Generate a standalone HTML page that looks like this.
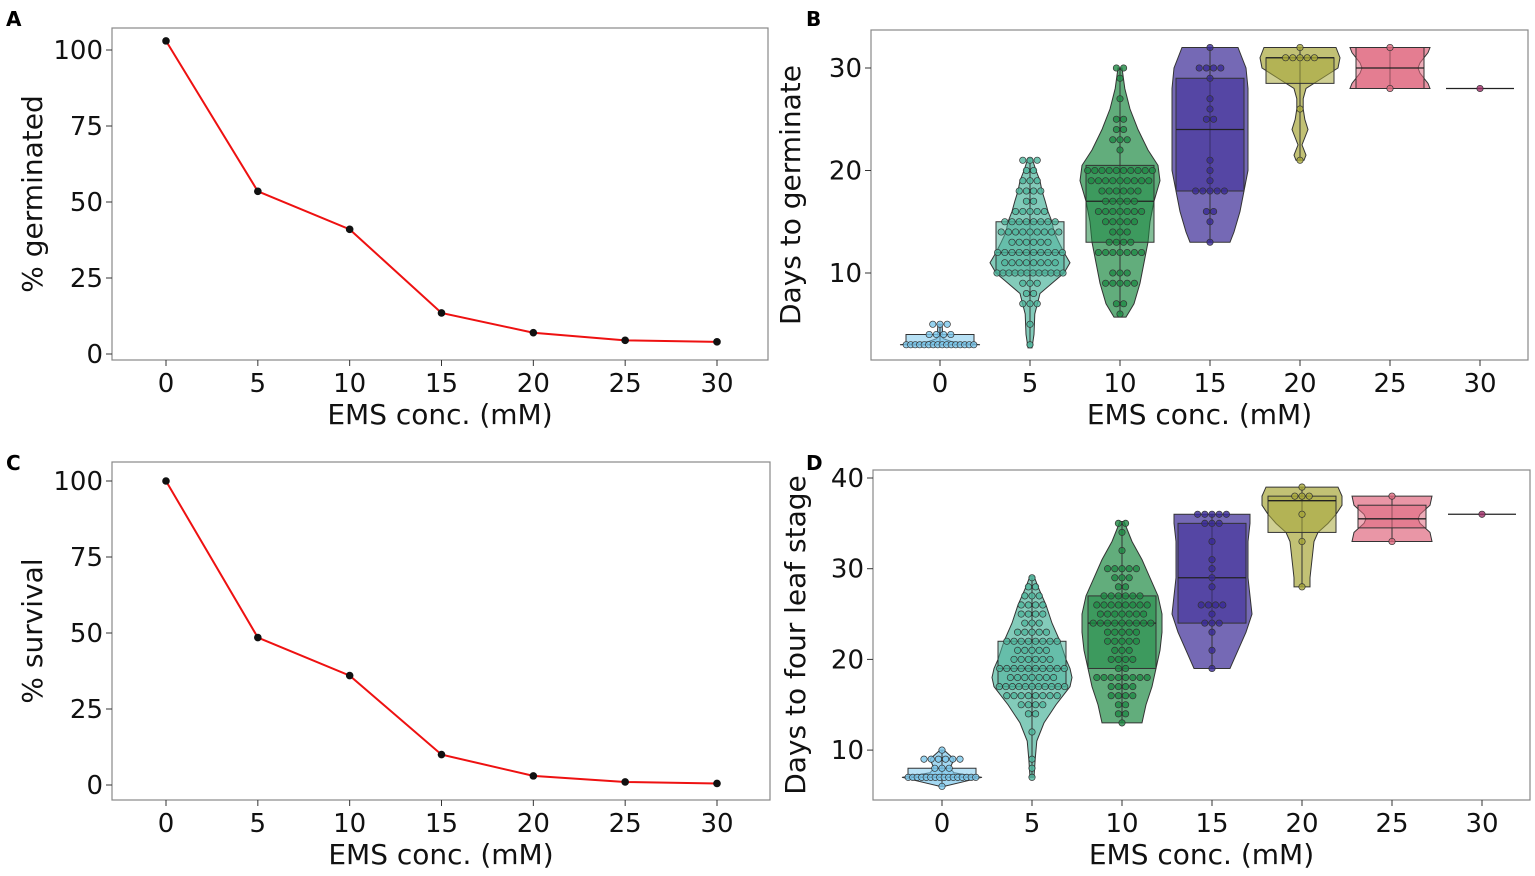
<!DOCTYPE html>
<html><head><meta charset="utf-8"><style>
body{margin:0;background:#fff;}
svg{display:block;font-family:"DejaVu Sans","Liberation Sans",sans-serif;}
</style></head><body>
<svg id="fig" width="1535" height="876" viewBox="0 0 1535 876" xmlns="http://www.w3.org/2000/svg"></svg>
<script>
const NS='http://www.w3.org/2000/svg';
const svg=document.getElementById('fig');
function el(tag,attrs,parent,text){const e=document.createElementNS(NS,tag);for(const k in attrs)e.setAttribute(k,attrs[k]);if(text!==undefined)e.textContent=text;(parent||svg).appendChild(e);return e;}

const concs=[0,5,10,15,20,25,30];
const germPct=[103,53.5,41,13.5,7,4.5,4];
const survPct=[100,48.5,36,10,3,1,0.5];
const pctTicks=[0,25,50,75,100];

const colors=['#7cc8ec','#4fb59c','#1f8a45','#3a2a96','#a8a73a','#e06a80','#a0306a'];
const bProfV=[[3,3.3,3.6,4,4.5,5],[2.7,4,6,8,9,10,11,12,13,14,15,16,17,18,19,20,21.2],[5.7,7,9,11,13,15,17,19,20.5,22,24,26,28,30],[13,14,16,18,20,22,24,26,28,30,31,32],[21,21.5,22.5,24,25,26,27,28,29,30,31,32],[28,28.5,29.5,30,30.5,31.5,32],[28]];
const bProfW=[[1,0.3,0.08,0.06,0.06,0.05],[0.05,0.1,0.12,0.25,0.55,0.85,1,0.85,0.72,0.6,0.55,0.45,0.38,0.3,0.25,0.15,0.05],[0.15,0.35,0.5,0.6,0.7,0.75,0.85,1,0.95,0.7,0.45,0.25,0.12,0.05],[0.5,0.6,0.75,0.85,0.95,0.95,0.95,0.95,0.95,0.9,0.8,0.7],[0.1,0.15,0.05,0.2,0.12,0.08,0.08,0.15,0.55,0.95,1,0.9],[1,0.95,0.75,0.7,0.75,0.95,1],[0.85]];
const bStats=[[3,3,3,4,5],[3,10,12,15,21],[6,13,17,20.5,30],[13,18,24,29,32],[21,28.5,31,31,32],[28,28,30,32,32],[28,28,28,28,28]];
const bDots=[[[3,16],[4,4],[5,3]],[[21,3],[20,2],[19,3],[18,4],[17,2],[16,5],[15,8],[14,9],[13,6],[12,10],[11,8],[10,12],[9,3],[8,2],[7,3],[5,1],[3,1]],[[30,2],[29,1],[27,1],[25,2],[24,2],[23,3],[22,1],[20,10],[19,9],[18,6],[17,5],[16,7],[15,5],[14,3],[13,4],[12,7],[10,3],[9,5],[7,2],[6,1]],[[32,1],[30,4],[29,1],[27,1],[26,1],[25,2],[21,1],[20,1],[19,1],[18,5],[16,2],[15,1],[13,1]],[[32,1],[31,5],[26,1],[21,1]],[[32,1],[28,1]],[[28,1]]];
const bTicks=[10,20,30];

const dProfV=[[6,7,7.5,8,9,10],[7,9,11,13,15,17,18,19,20,22,24,26,28,29.2],[13,15,17,19,21,23,25,27,29,31,33,35.2],[19,21,23,25,27,29,31,33,35,36],[28,29,31,33,34,35,36,37,38,39],[33,34,35,35.5,36,37,38],[36]];
const dProfW=[[0.05,1,0.3,0.2,0.3,0.05],[0.05,0.08,0.12,0.3,0.6,0.95,1,0.95,0.85,0.7,0.5,0.35,0.15,0.05],[0.5,0.6,0.75,0.85,0.95,1,1,0.9,0.7,0.5,0.25,0.05],[0.45,0.65,0.85,1,0.95,0.9,0.9,0.9,0.95,0.95],[0.2,0.2,0.25,0.3,0.4,0.65,0.85,1,1,0.9],[1,0.95,0.7,0.65,0.7,0.95,1],[0.85]];
const dStats=[[6,7,7,8,10],[7,17,19,22,29],[13,19,24,27,35],[19,24,29,35,36],[28,34,37.5,38,39],[33,34.5,35.5,37,38],[36,36,36,36,36]];
const dDots=[[[10,1],[9,6],[8,3],[7,16],[6,1]],[[29,1],[28,2],[27,3],[26,4],[25,4],[24,3],[23,5],[22,8],[21,5],[20,6],[19,10],[18,7],[17,11],[16,8],[15,4],[14,2],[12,1],[9,1],[8,1],[7,1]],[[35,2],[34,1],[32,1],[30,5],[29,3],[28,2],[27,6],[26,8],[25,7],[24,9],[23,5],[22,5],[21,3],[20,4],[19,2],[18,8],[17,4],[16,4],[15,2],[14,2],[13,1]],[[36,5],[35,3],[33,1],[31,1],[30,1],[29,1],[28,1],[26,4],[25,1],[24,3],[23,1],[21,1],[19,1]],[[39,1],[38,3],[36,1],[33,1],[28,1]],[[38,1],[33,1]],[[36,1]]];
const dTicks=[10,20,30,40];

function frame(g,box,name){const r=el('rect',{x:box.l,y:box.t,width:box.r-box.l,height:box.b-box.t,fill:'none',stroke:'#888','stroke-width':1.2},g);}
function xAxis(g,box,sx,title){
  concs.forEach(c=>{const x=sx(c);el('line',{x1:x,y1:box.b,x2:x,y2:box.b+6,stroke:'#333'},g);
    const t=el('text',{x:x,y:box.b+32,'font-size':26,'text-anchor':'middle',fill:'#111'},g,String(c));});
  const t=el('text',{x:(box.l+box.r)/2,y:box.b+64,'font-size':28,'text-anchor':'middle',fill:'#111'},g,title);
  
}
function yAxis(g,box,sy,ticks,title,tx){
  ticks.forEach(v=>{const y=sy(v);el('line',{x1:box.l-6,y1:y,x2:box.l,y2:y,stroke:'#333'},g);
    const t=el('text',{x:box.l-9,y:y+9,'font-size':26,'text-anchor':'end',fill:'#111'},g,String(v));});
  const cy=(box.t+box.b)/2;
  const t=el('text',{x:tx,y:cy,'font-size':28,'text-anchor':'middle',fill:'#111',transform:`rotate(-90 ${tx} ${cy})`},g,title);
  
}
function letter(x,y,s){const t=el('text',{x:x,y:y,'font-size':20,'font-weight':'bold',fill:'#000'},svg,s);}

function linePanel(box,vals,title,name){
  const g=el('g',{});
  const sx=c=>166+(c/30)*551;
  const sy=v=>box.y0-v*3.04;
  frame(g,box,'plot-frame');
  const pts=concs.map((c,i)=>sx(c)+','+sy(vals[i])).join(' ');
  const pl=el('polyline',{points:pts,fill:'none',stroke:'#ee1111','stroke-width':2},g);
  
  concs.forEach((c,i)=>{const p=el('circle',{cx:sx(c),cy:sy(vals[i]),r:3.8,fill:'#111'},g);});
  xAxis(g,box,sx,'EMS conc. (mM)');
  yAxis(g,box,sy,pctTicks,title,42);
}
linePanel({l:112,t:28,r:768,b:360,y0:354},germPct,'% germinated','panel-a-germination');
linePanel({l:112,t:462,r:770,b:800,y0:785},survPct,'% survival','panel-c-survival');

function violinPanel(box,sy,profV,profW,stats,dots,ticks,title,tx,name){
  const g=el('g',{});
  const sx=c=>box.x0+(c/5)*90;
  frame(g,box,'plot-frame');
  concs.forEach((c,i)=>{
    const cx=sx(c),col=colors[i];
    const gg=el('g',{},g);
    if(profV[i].length>1){
      const L=[],R=[];
      profV[i].forEach((v,k)=>{const w=profW[i][k]*40;R.push((cx+w)+','+sy(v));L.unshift((cx-w)+','+sy(v));});
      const p=el('polygon',{points:R.concat(L).join(' '),fill:col,'fill-opacity':0.7,stroke:'#333','stroke-width':1},gg);
      
    }
    const s=stats[i];
    el('line',{x1:cx,y1:sy(s[0]),x2:cx,y2:sy(s[4]),stroke:'#333','stroke-width':1},gg);
    if(s[3]>s[1]){const b=el('rect',{x:cx-34,y:sy(s[3]),width:68,height:sy(s[1])-sy(s[3]),fill:col,'fill-opacity':0.55,stroke:'#333','stroke-width':1},gg);
      }
    el('line',{x1:cx-34,y1:sy(s[2]),x2:cx+34,y2:sy(s[2]),stroke:'#222','stroke-width':1.3},gg);
    dots[i].forEach(([v,n])=>{const sp=Math.min(7.2,72/n);for(let k=0;k<n;k++){const dx=(k-(n-1)/2)*sp;
      const d=el('circle',{cx:cx+dx,cy:sy(v),r:3.2,fill:col,'fill-opacity':0.8,stroke:'#333','stroke-width':0.7},gg);
      }});
  });
  xAxis(g,box,sx,'EMS conc. (mM)');
  yAxis(g,box,sy,ticks,title,tx);
}
violinPanel({l:871,t:30,r:1528,b:360,x0:940},v=>68+(30-v)*10.25,bProfV,bProfW,bStats,bDots,bTicks,'Days to germinate',800,'panel-b-days-germinate');
violinPanel({l:873,t:470,r:1530,b:800,x0:942},v=>478+(40-v)*9.07,dProfV,dProfW,dStats,dDots,dTicks,'Days to four leaf stage',805,'panel-d-days-four-leaf');

letter(6,26,'A');letter(806,26,'B');letter(6,470,'C');letter(806,470,'D');
</script>
</body></html>
